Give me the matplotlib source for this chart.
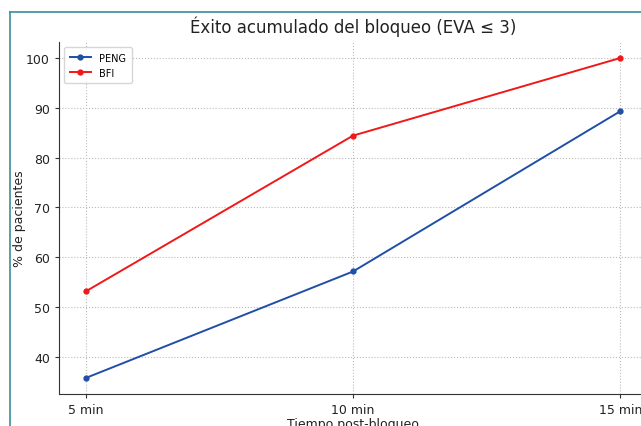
import matplotlib
matplotlib.use('Agg')
import matplotlib.pyplot as plt
from matplotlib.lines import Line2D

# Data
tiempos = ['5 min', '10 min', '15 min']
peng = [35.7, 57.1, 89.3]
bfi = [53.1, 84.4, 100.0]

colors = {'peng': '#1f4fa6', 'bfi': '#f01818', 'grey': '#333333', 'frame': '#3a8fa0'}

W, H = 641, 427
fig = plt.figure(figsize=(W / 100, H / 100), dpi=100)

# axes in pixel units, right edge runs past the image like in the screenshot
left, right, top, bottom = 59, 647, 43, 395
ax = fig.add_axes([left / W, (H - bottom) / H, (right - left) / W, (bottom - top) / H])

ax.plot(tiempos, peng, color=colors['peng'], marker='o', markersize=3.5, linewidth=1.4, label='PENG')
ax.plot(tiempos, bfi, color=colors['bfi'], marker='o', markersize=3.5, linewidth=1.4, label='BFI')

ax.set_title('Éxito acumulado del bloqueo (EVA ≤ 3)', fontsize=12, color='#222222', pad=7)
ax.set_xlabel('Tiempo post-bloqueo', fontsize=9, color='#222222', labelpad=1)
ax.set_ylabel('% de pacientes', fontsize=9, color='#222222', labelpad=0)
ax.tick_params(axis='both', labelsize=9, colors=colors['grey'], labelcolor='#222222', length=3)
ax.grid(True, color='#bbbbbb', linestyle=':', linewidth=0.8)
ax.set_axisbelow(True)

for side in ['top', 'right']:
    ax.spines[side].set_visible(False)
for side in ['left', 'bottom']:
    ax.spines[side].set_color(colors['grey'])

ax.legend(loc='upper left', fontsize=7, frameon=True, edgecolor='#cccccc',
          handlelength=2.2, borderpad=0.6, labelspacing=0.5)

# screenshot frame
fig.add_artist(Line2D([10 / W, 1], [1 - 13 / H, 1 - 13 / H], color=colors['frame'], linewidth=1.2))
fig.add_artist(Line2D([10 / W, 10 / W], [0, 1 - 13 / H], color=colors['frame'], linewidth=1.2))

fig.savefig('out.png', dpi=100)
